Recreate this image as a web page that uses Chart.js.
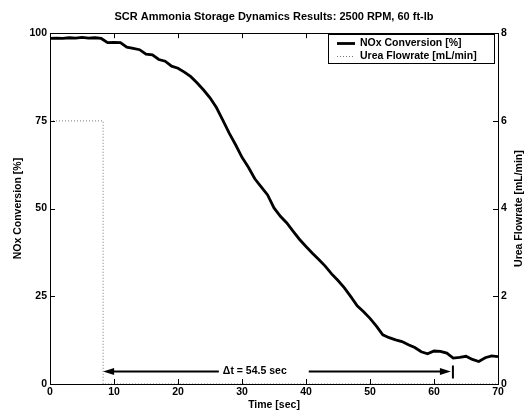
<!DOCTYPE html>
<html><head><meta charset="utf-8">
<script src="https://cdn.jsdelivr.net/npm/chart.js@4/dist/chart.umd.min.js"></script>
<style>html,body{margin:0;padding:0;background:#fff;}</style>
</head><body>
<canvas id="c" width="526" height="411"></canvas>
<script>
const chartTitle = 'SCR Ammonia Storage Dynamics Results: 2500 RPM, 60 ft-lb';
const xTitle = 'Time [sec]';
const yLeftTitle = 'NOx Conversion [%]';
const yRightTitle = 'Urea Flowrate [mL/min]';
const noxLabel = 'NOx Conversion [%]';
const ureaLabel = 'Urea Flowrate [mL/min]';

const timeSec = [0,1,2,3,4,5,6,7,8,9,10,11,12,13,14,15,16,17,18,19,20,21,22,23,24,25,26,27,28,29,30,31,32,33,34,35,36,37,38,39,40,41,42,43,44,45,46,47,48,49,50,51,52,53,54,55,56,57,58,59,60,61,62,63,64,65,66,67,68,69,70];
const noxConversion = [98.5,98.6,98.5,98.7,98.6,98.8,98.6,98.7,98.5,97.3,97.4,97.3,96.0,95.7,95.3,94.0,93.8,92.5,92.0,90.6,90.0,88.9,87.6,85.8,83.8,81.6,78.8,75.2,71.5,68.2,64.6,61.8,58.5,56.2,53.9,50.2,47.8,45.9,43.5,41.2,39.2,37.3,35.5,33.6,31.4,29.5,27.4,24.9,22.3,20.6,18.7,16.5,14.0,13.2,12.6,12.1,11.2,10.4,9.2,8.6,9.4,9.3,8.8,7.4,7.6,7.9,7.0,6.4,7.5,8.0,7.8];
const ureaTime = [0, 8.3, 8.3, 70];
const ureaFlow = [6, 6, 0, 0];

const xTicks = [0,10,20,30,40,50,60,70];
const yLeftTicks = [0,25,50,75,100];
const yRightTicks = [0,2,4,6,8];

const deltaLabel = '\u0394t = 54.5 sec';
const deltaStart = 8.3;
const deltaEnd = 62.8;
const deltaLevel = 3.8;
const deltaTextAt = 32;

const FONT = '"Liberation Sans", Arial, Helvetica, sans-serif';

const framePlugin = {
  id: 'frame',
  afterDraw(chart) {
    const {ctx, chartArea: a, scales} = chart;
    ctx.save();
    ctx.strokeStyle = '#000';
    ctx.lineWidth = 1;
    ctx.strokeRect(Math.round(a.left) + 0.5, Math.round(a.top) + 0.5, Math.round(a.right - a.left), Math.round(a.bottom - a.top));
    const L = 5;
    ctx.beginPath();
    scales.x.ticks.forEach(t => {
      const px = Math.round(scales.x.getPixelForValue(t.value)) + 0.5;
      ctx.moveTo(px, a.bottom); ctx.lineTo(px, a.bottom - L);
      ctx.moveTo(px, a.top); ctx.lineTo(px, a.top + L);
    });
    scales.y.ticks.forEach(t => {
      const py = Math.round(scales.y.getPixelForValue(t.value)) + 0.5;
      ctx.moveTo(a.left, py); ctx.lineTo(a.left + L, py);
    });
    scales.y2.ticks.forEach(t => {
      const py = Math.round(scales.y2.getPixelForValue(t.value)) + 0.5;
      ctx.moveTo(a.right, py); ctx.lineTo(a.right - L, py);
    });
    ctx.stroke();
    // right axis title (reads bottom to top)
    ctx.fillStyle = '#000';
    ctx.font = 'bold 10.5px ' + FONT;
    ctx.textAlign = 'center';
    ctx.textBaseline = 'middle';
    ctx.translate(519, (a.top + a.bottom) / 2);
    ctx.rotate(-Math.PI / 2);
    ctx.fillText(yRightTitle, 0, 0);
    ctx.restore();
  }
};

const annotationPlugin = {
  id: 'deltaArrow',
  afterDatasetsDraw(chart) {
    const {ctx, scales} = chart;
    const y = Math.round(scales.y.getPixelForValue(deltaLevel)) + 0.5;
    const x1 = scales.x.getPixelForValue(deltaStart);
    const x2 = scales.x.getPixelForValue(deltaEnd);
    const xt = scales.x.getPixelForValue(deltaTextAt);
    ctx.save();
    ctx.font = 'bold 10.5px ' + FONT;
    const w = ctx.measureText(deltaLabel).width;
    ctx.fillStyle = '#000';
    ctx.textAlign = 'center';
    ctx.textBaseline = 'middle';
    ctx.fillText(deltaLabel, xt, y);
    ctx.strokeStyle = '#000';
    ctx.lineWidth = 2;
    ctx.beginPath();
    ctx.moveTo(x1 + 8, y); ctx.lineTo(xt - w / 2 - 4, y);
    ctx.moveTo(xt + w / 2 + 22, y); ctx.lineTo(x2 - 8, y);
    ctx.stroke();
    ctx.beginPath();
    ctx.moveTo(x1, y); ctx.lineTo(x1 + 11, y - 3.5); ctx.lineTo(x1 + 11, y + 3.5); ctx.closePath();
    ctx.moveTo(x2 - 1, y); ctx.lineTo(x2 - 12, y - 3.5); ctx.lineTo(x2 - 12, y + 3.5); ctx.closePath();
    ctx.fill();
    ctx.beginPath();
    ctx.moveTo(x2 + 1, y - 6); ctx.lineTo(x2 + 1, y + 7);
    ctx.stroke();
    ctx.restore();
  }
};

const legendPlugin = {
  id: 'boxLegend',
  afterDraw(chart) {
    const {ctx, chartArea: a} = chart;
    const right = a.right - 4, top = a.top + 1;
    const w = 166, h = 29;
    const left = right - w;
    ctx.save();
    ctx.fillStyle = '#fff';
    ctx.fillRect(left, top, w, h);
    ctx.strokeStyle = '#000';
    ctx.lineWidth = 1;
    ctx.strokeRect(Math.round(left) + 0.5, Math.round(top) + 0.5, w, h);
    ctx.font = 'bold 10.5px ' + FONT;
    ctx.textBaseline = 'middle';
    ctx.textAlign = 'left';
    chart.data.datasets.forEach((ds, i) => {
      const yy = Math.round(top + 9 + i * 12.5) + 0.5;
      ctx.strokeStyle = ds.borderColor;
      ctx.lineWidth = ds.borderWidth;
      ctx.setLineDash(ds.borderDash || []);
      ctx.beginPath();
      ctx.moveTo(left + 9, yy); ctx.lineTo(left + 27, yy);
      ctx.stroke();
      ctx.setLineDash([]);
      ctx.fillStyle = '#000';
      ctx.fillText(ds.label, left + 32, yy);
    });
    ctx.restore();
  }
};

const tickFont = {family: FONT, size: 10.5, weight: 'bold'};

new Chart(document.getElementById('c'), {
  type: 'line',
  data: {
    datasets: [
      {
        label: noxLabel,
        data: timeSec.map((t, i) => ({x: t, y: noxConversion[i]})),
        borderColor: '#000', borderWidth: 2.8, pointRadius: 0, tension: 0,
        yAxisID: 'y', fill: false
      },
      {
        label: ureaLabel,
        data: ureaTime.map((t, i) => ({x: t, y: ureaFlow[i]})),
        borderColor: '#777', borderWidth: 1, borderDash: [1, 2], pointRadius: 0, tension: 0,
        yAxisID: 'y2', fill: false
      }
    ]
  },
  options: {
    responsive: false,
    animation: false,
    devicePixelRatio: 1,
    layout: {padding: 0},
    plugins: {
      legend: {display: false},
      tooltip: {enabled: false},
      title: {
        display: true, text: chartTitle, color: '#000', fullSize: false,
        font: {family: FONT, size: 11, weight: 'bold'},
        padding: {top: 10, bottom: 10}
      }
    },
    scales: {
      x: {
        type: 'linear', min: 0, max: 70,
        afterFit(s) { s.height = 27; },
        afterBuildTicks(s) { s.ticks = xTicks.map(v => ({value: v})); },
        ticks: {color: '#000', font: tickFont, padding: 2, maxRotation: 0},
        grid: {display: false, drawTicks: false},
        border: {display: false},
        title: {display: true, text: xTitle, color: '#000', font: tickFont, padding: {top: 0, bottom: 0}}
      },
      y: {
        position: 'left', min: 0, max: 100,
        afterFit(s) { s.width = 50; },
        afterBuildTicks(s) { s.ticks = yLeftTicks.map(v => ({value: v})); },
        ticks: {color: '#000', font: tickFont, padding: 3},
        grid: {display: false, drawTicks: false},
        border: {display: false},
        title: {display: true, text: yLeftTitle, color: '#000', font: tickFont, padding: {top: 12, bottom: 0}}
      },
      y2: {
        position: 'right', min: 0, max: 8,
        afterFit(s) { s.width = 28; },
        afterBuildTicks(s) { s.ticks = yRightTicks.map(v => ({value: v})); },
        ticks: {color: '#000', font: tickFont, padding: 3},
        grid: {display: false, drawTicks: false},
        border: {display: false}
      }
    }
  },
  plugins: [annotationPlugin, framePlugin, legendPlugin]
});
</script>
</body></html>
